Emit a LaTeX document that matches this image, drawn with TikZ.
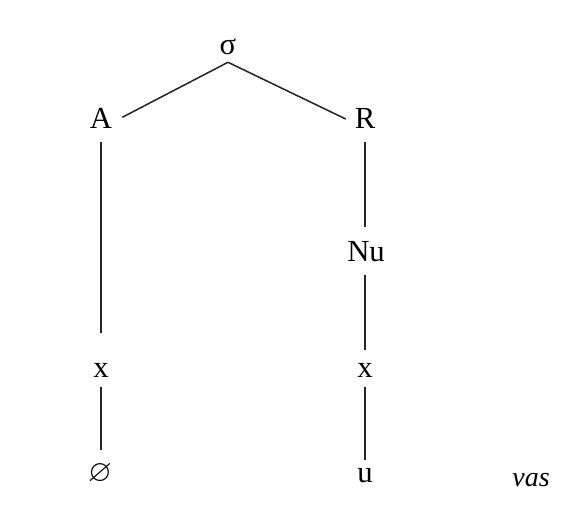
\documentclass[tikz,border=0pt]{standalone}
\usepackage{amssymb}
\usepackage{fontspec}
\setmainfont{Liberation Serif}
\usetikzlibrary{positioning}

\begin{document}
\begin{tikzpicture}[
  x=0.75pt, y=-0.75pt,
  every node/.style={font=\fontsize{23}{26}\selectfont, inner sep=0pt},
  branch/.style={line width=1.15pt, black!85}
]
\useasboundingbox (0,0) rectangle (582,515);

% Nodes
\node (sigma) at (228,47)  {σ};
\node (onset) at (101,118) {A};
\node (rime)  at (365,118) {R};
\node (nucl)  at (366,252) {Nu};
\node (xon)   at (101,370) {x};
\node (xnu)   at (365,370) {x};
\node (empty) at (100,474) {$\varnothing$};
\node (vowel) at (365,476) {u};
\node[font=\fontsize{21}{24}\selectfont\itshape] (word) at (531,480) {vas};
\coordinate[below=5.25pt of sigma.south] (apex);

% Branches
\draw[branch, shorten >=18pt] (apex) -- (onset.south);
\draw[branch, shorten >=16pt] (apex) -- (rime.south);
\draw[branch, shorten <=18pt, shorten >=28pt] (onset.center) -- (xon.center);
\draw[branch, shorten <=12.75pt, shorten >=18pt] (xon.center) -- (xon.center |- empty.center);
\draw[branch, shorten <=18pt, shorten >=19pt] (rime.center) -- (rime.center |- nucl.center);
\draw[branch, shorten <=17pt, shorten >=15pt] (xnu.center |- nucl.center) -- (xnu.center);
\draw[branch, shorten <=12.75pt, shorten >=12pt] (xnu.center) -- (vowel.center);
\end{tikzpicture}
\end{document}
